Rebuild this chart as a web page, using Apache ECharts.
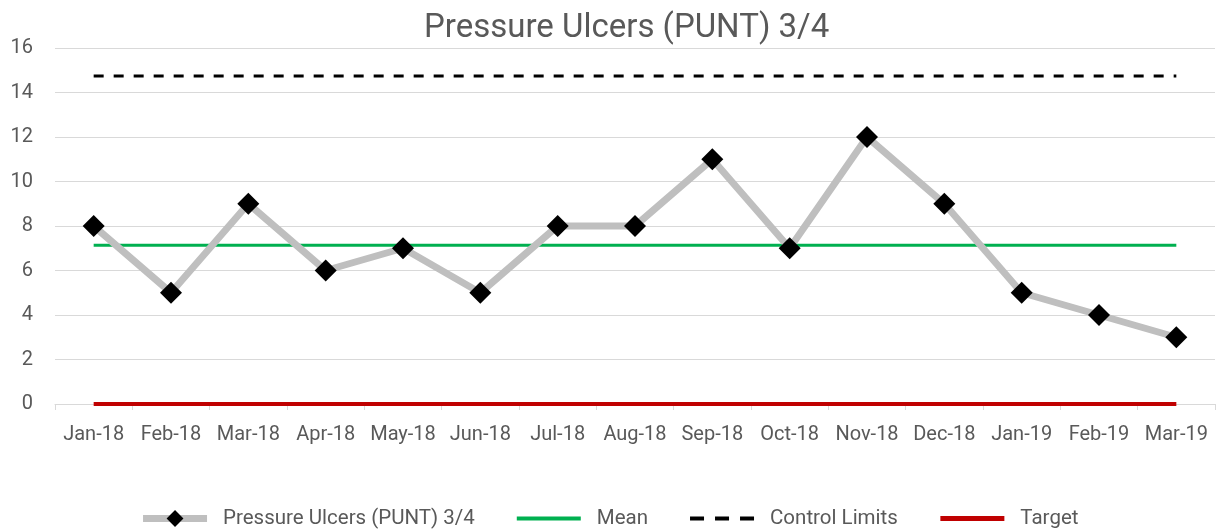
<!DOCTYPE html>
<html>
<head>
<meta charset="utf-8">
<script src="https://cdn.jsdelivr.net/npm/echarts@6/dist/echarts.min.js"></script>
<style>
  html, body { margin: 0; padding: 0; background: #fff; }
  #chart { width: 1218px; height: 530px; }
</style>
</head>
<body>
<div id="chart"></div>
<script>
// data
const months = ['Jan-18', 'Feb-18', 'Mar-18', 'Apr-18', 'May-18', 'Jun-18', 'Jul-18',
    'Aug-18', 'Sep-18', 'Oct-18', 'Nov-18', 'Dec-18', 'Jan-19', 'Feb-19', 'Mar-19'];
const ulcers = [8, 5, 9, 6, 7, 5, 8, 8, 11, 7, 12, 9, 5, 4, 3];
const mean = [7.13, 7.13, 7.13, 7.13, 7.13, 7.13, 7.13, 7.13, 7.13, 7.13, 7.13, 7.13, 7.13, 7.13, 7.13];
const controlLimits = [14.74, 14.74, 14.74, 14.74, 14.74, 14.74, 14.74, 14.74, 14.74, 14.74, 14.74, 14.74, 14.74, 14.74, 14.74];
const target = [0, 0, 0, 0, 0, 0, 0, 0, 0, 0, 0, 0, 0, 0, 0];

const font = 'Roboto, "Liberation Sans", sans-serif';
const grey = '#595959';

const myChart = echarts.init(document.getElementById('chart'));

// legend entries: only the data series keeps its marker
const hidden = { opacity: 0 };

myChart.setOption({
    animation: false,
    textStyle: { fontFamily: font },
    title: {
        text: 'Pressure Ulcers (PUNT) 3/4',
        left: 419,
        top: 7,
        textStyle: { fontFamily: font, fontSize: 33, fontWeight: 'normal', color: grey }
    },
    legend: {
        top: 503,
        left: 'center',
        itemWidth: 64,
        itemHeight: 21,
        itemGap: 40,
        textStyle: { fontFamily: font, fontSize: 20.5, color: grey, padding: [0, 0, 0, 11] },
        data: [
            { name: 'Pressure Ulcers (PUNT) 3/4', lineStyle: { width: 7 } },
            { name: 'Mean', itemStyle: hidden, lineStyle: { width: 4 } },
            { name: 'Control Limits', itemStyle: hidden, lineStyle: { width: 4, type: [14, 11] } },
            { name: 'Target', itemStyle: hidden, lineStyle: { width: 5 } }
        ]
    },
    grid: { left: 55, right: 3, top: 48, bottom: 126 },
    xAxis: {
        type: 'category',
        data: months,
        boundaryGap: true,
        axisLine: { lineStyle: { color: '#d9d9d9', width: 1 } },
        axisTick: { show: true, length: 6, lineStyle: { color: '#d9d9d9' } },
        axisLabel: { fontFamily: font, fontSize: 20, color: grey, margin: 21, interval: 0 }
    },
    yAxis: {
        type: 'value',
        min: 0,
        max: 16,
        interval: 2,
        axisLine: { show: false },
        axisTick: { show: false },
        axisLabel: { fontFamily: font, fontSize: 20, color: grey, margin: 22 },
        splitLine: { lineStyle: { color: '#d9d9d9', width: 1 } }
    },
    series: [
        {
            name: 'Pressure Ulcers (PUNT) 3/4',
            type: 'line',
            data: ulcers,
            z: 5,
            symbol: 'diamond',
            symbolSize: 22,
            itemStyle: { color: '#000' },
            lineStyle: { color: '#bfbfbf', width: 7 }
        },
        {
            name: 'Mean',
            type: 'line',
            data: mean,
            symbol: 'none',
            itemStyle: { color: '#00b050' },
            lineStyle: { color: '#00b050', width: 3 }
        },
        {
            name: 'Control Limits',
            type: 'line',
            data: controlLimits,
            symbol: 'none',
            itemStyle: { color: '#000' },
            lineStyle: { color: '#000', width: 3, type: [10, 10] }
        },
        {
            name: 'Target',
            type: 'line',
            data: target,
            symbol: 'none',
            itemStyle: { color: '#c00000' },
            lineStyle: { color: '#c00000', width: 4 }
        }
    ]
});
</script>
</body>
</html>
